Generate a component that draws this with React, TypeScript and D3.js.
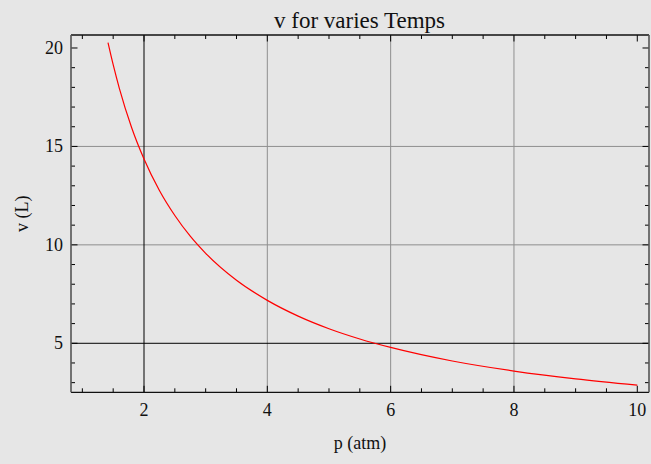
import React from "react";
import * as d3 from "d3";

const title = "v for varies Temps";
const xLabel = "p (atm)";
const yLabel = "v (L)";
const pressure = [1.416, 1.5, 1.6, 1.8, 2, 2.25, 2.5, 2.75, 3, 3.5, 4, 4.5, 5, 5.5, 6, 7, 8, 9, 10];
const volume = [20.27, 19.15, 17.95, 15.95, 14.36, 12.76, 11.49, 10.44, 9.57, 8.2, 7.18, 6.38, 5.74, 5.22, 4.79, 4.1, 3.59, 3.19, 2.87];
const xMajor = [2, 4, 6, 8, 10];
const xMinor = [1, 1.5, 2.5, 3, 3.5, 4.5, 5, 5.5, 6.5, 7, 7.5, 8.5, 9, 9.5];
const yMajor = [5, 10, 15, 20];
const yMinor = [3, 4, 6, 7, 8, 9, 11, 12, 13, 14, 16, 17, 18, 19];
const xGrid = [4, 6, 8];
const yGrid = [10, 15];
const xAxisLine = 2;
const yAxisLine = 5;

export default function App() {
  const W = 651, H = 464;
  const L = 71, R = 649, T = 35, B = 392.3;
  const x = d3.scaleLinear().domain([0.816, 10.19]).range([L, R]);
  const y = d3.scaleLinear().domain([2.51, 20.66]).range([B, T]);
  const pts = pressure.map((p, i) => [p, volume[i]] as [number, number]);
  const line = d3.line<[number, number]>().x(d => x(d[0])).y(d => y(d[1])).curve(d3.curveMonotoneX);
  const font = "'Liberation Serif', 'Times New Roman', serif";
  const MJ = 6.5, MN = 4;
  return (
    <svg width={W} height={H} style={{ position: "absolute", left: 0, top: 0 }} fontFamily={font}>
      <rect x={0} y={0} width={W} height={H} fill="#e6e6e6" />
      {xGrid.map(v => <line key={"gx" + v} x1={x(v)} x2={x(v)} y1={T} y2={B} stroke="#8f8f8f" strokeWidth={1} />)}
      {yGrid.map(v => <line key={"gy" + v} x1={L} x2={R} y1={y(v)} y2={y(v)} stroke="#8f8f8f" strokeWidth={1} />)}
      <line x1={x(xAxisLine)} x2={x(xAxisLine)} y1={T} y2={B} stroke="#000" strokeWidth={1} />
      <line x1={L} x2={R} y1={y(yAxisLine)} y2={y(yAxisLine)} stroke="#000" strokeWidth={1} />
      <path d={line(pts) || ""} fill="none" stroke="#ff0000" strokeWidth={1.2} />
      {xMajor.map(v => (
        <g key={"xm" + v}>
          <line x1={x(v)} x2={x(v)} y1={B} y2={B - MJ} stroke="#000" />
          <line x1={x(v)} x2={x(v)} y1={T} y2={T + MJ} stroke="#000" />
          <text x={x(v)} y={416} fontSize={18} textAnchor="middle" fill="#111">{v}</text>
        </g>
      ))}
      {xMinor.map(v => (
        <g key={"xn" + v}>
          <line x1={x(v)} x2={x(v)} y1={B} y2={B - MN} stroke="#000" />
          <line x1={x(v)} x2={x(v)} y1={T} y2={T + MN} stroke="#000" />
        </g>
      ))}
      {yMajor.map(v => (
        <g key={"ym" + v}>
          <line x1={L} x2={L + MJ} y1={y(v)} y2={y(v)} stroke="#000" />
          <line x1={R} x2={R - MJ} y1={y(v)} y2={y(v)} stroke="#000" />
          <text x={63} y={y(v) + 6} fontSize={18} textAnchor="end" fill="#111">{v}</text>
        </g>
      ))}
      {yMinor.map(v => (
        <g key={"yn" + v}>
          <line x1={L} x2={L + MN} y1={y(v)} y2={y(v)} stroke="#000" />
          <line x1={R} x2={R - MN} y1={y(v)} y2={y(v)} stroke="#000" />
        </g>
      ))}
      <line x1={L} x2={R} y1={T} y2={T} stroke="#111" strokeWidth={1.3} />
      <line x1={L} x2={R} y1={B} y2={B} stroke="#111" strokeWidth={1.3} />
      <line x1={L} x2={L} y1={T} y2={B} stroke="#555" strokeWidth={1.6} />
      <line x1={R} x2={R} y1={T} y2={B} stroke="#555" strokeWidth={1.6} />
      <text x={359.5} y={28} fontSize={23} textAnchor="middle" fill="#111">{title}</text>
      <text x={(L + R) / 2} y={449} fontSize={18} textAnchor="middle" fill="#111">{xLabel}</text>
      <text transform={`translate(28,${(T + B) / 2}) rotate(-90)`} fontSize={18} textAnchor="middle" fill="#111">{yLabel}</text>
    </svg>
  );
}
